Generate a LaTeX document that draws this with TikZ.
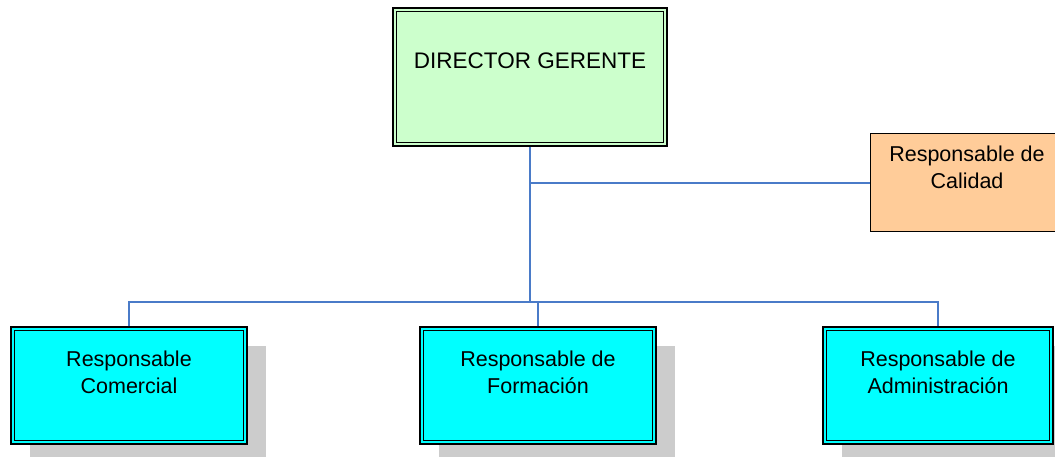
\documentclass[tikz,border=0pt]{standalone}
\usepackage{fontspec}
\setmainfont{Liberation Sans}
\usetikzlibrary{shadows}
\definecolor{dirfill}{HTML}{CCFFCC}
\definecolor{calfill}{HTML}{FFCC99}
\definecolor{cyanfill}{HTML}{00FFFF}
\definecolor{shadowc}{HTML}{CCCCCC}
\definecolor{conncol}{HTML}{4A7BC8}
\begin{document}
\begin{tikzpicture}[x=1pt,y=-1pt,
  dbox/.style={draw=black, line width=1.5pt, inner sep=0pt, minimum width=#1},
  unitbox/.style={dbox=236pt, minimum height=117pt, fill=cyanfill,
     drop shadow={shadow xshift=19pt, shadow yshift=-19pt, fill=shadowc, opacity=1}},
  innerline/.style={draw=black, line width=0.9pt},
  conn/.style={draw=conncol, line width=1.3pt},
  mainconn/.style={draw=conncol, line width=2.2pt},
  lbl/.style={anchor=base, align=center, inner sep=0pt, font=\fontsize{21.5}{27}\selectfont}]
\useasboundingbox (0,0) rectangle (1055,457);

% boxes
\node[dbox=274pt, minimum height=138pt, fill=dirfill] (dir) at (530,77) {};
\node[draw=black, line width=1pt, inner sep=0pt, minimum width=194pt, minimum height=98pt, fill=calfill] (cal) at (967,183) {};
\node[unitbox] (com) at (129,385.5) {};
\node[unitbox] (form) at (538,385.5) {};
\node[unitbox, minimum width=230pt] (adm) at (938,385.5) {};

% inner lines of double borders
\foreach \n in {dir,com,form,adm}{
  \draw[innerline] ([shift={(4,4)}]\n.north west) rectangle ([shift={(-4,-4)}]\n.south east);
}

% texts (base anchor = baseline of the last line)
\node[lbl, font=\fontsize{22.5}{27}\selectfont] (dirt) at (530,69) {DIRECTOR GERENTE};
\node[lbl] (calt) at (967,189) {Responsable de\\Calidad};
\node[lbl] (comt) at (129,393) {Responsable\\Comercial};
\node[lbl] (formt) at (538,393) {Responsable de\\Formación};
\node[lbl] (admt) at (938,393) {Responsable de\\Administración};

% connectors
\coordinate (bus) at (530,302);
\draw[mainconn] (dir.south) -- (dir.south |- bus);
\draw[conn] (com.north) |- (adm.north |- bus) -- (adm.north);
\draw[conn] (form.north) -- (form.north |- bus);
\draw[conn] (cal.west) -- (cal.west -| dir.south);
\end{tikzpicture}
\end{document}
